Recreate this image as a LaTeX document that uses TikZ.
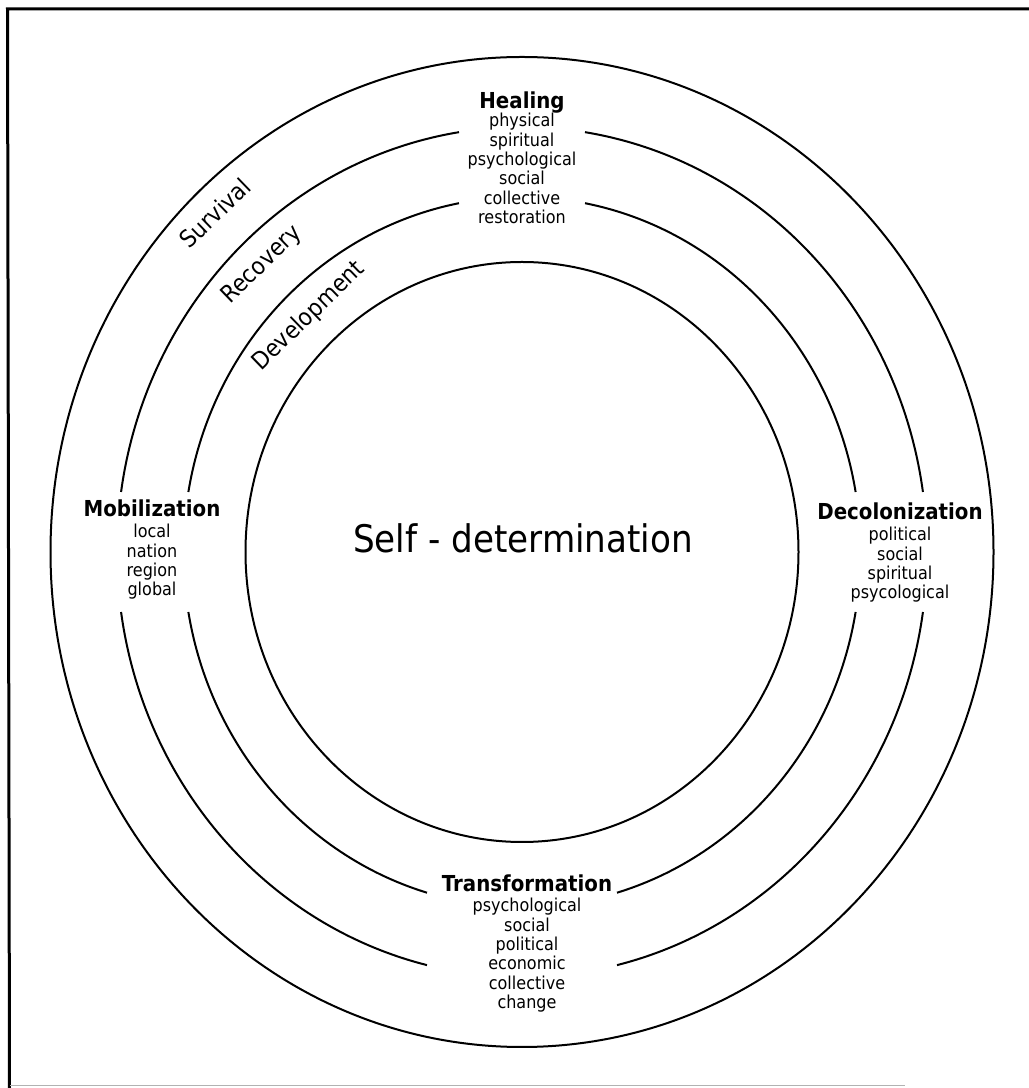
\documentclass[tikz,border=0pt]{standalone}
\usepackage{fontspec}
\setmainfont{DejaVu Sans}[FakeStretch=0.9]
\usetikzlibrary{calc}
\begin{document}
\begin{tikzpicture}[x=1pt,y=1pt,
  ring/.style={line width=2pt, black},
  head/.style={font=\fontsize{22}{26}\selectfont\bfseries, anchor=base, inner sep=0},
  sub/.style={font=\fontsize{17.8}{19.3}\selectfont, anchor=base, inner sep=0},
  layer/.style={font=\fontsize{24}{28}\selectfont, rotate=44, inner sep=0},
  title/.style={font=\fontsize{38}{44}\selectfont, anchor=base, inner sep=0}]
\useasboundingbox (0,0) rectangle (1029,1088);
\fill[white] (0,0) rectangle (1029,1088);
% frame
\draw[line width=3pt] (1029,1079) -- (7.5,1079) -- (9.5,0);
\draw[gray!60, line width=0.8pt] (10,2.5) -- (905,2.5);
\coordinate (c) at (522,536);
% full rings
\draw[ring] (c) ellipse [x radius=471.5, y radius=495];
\draw[ring] (c) ellipse [x radius=276.5, y radius=290];
% broken rings
\foreach \a/\b in {8.12/81.05, 98.95/171.88, 188.12/256.43, 283.57/351.88}
  \draw[ring] ($(c)+(\a:405 and 425)$) arc[start angle=\a, end angle=\b, x radius=405, y radius=425];
\foreach \a/\b in {9.73/79.27, 100.73/170.27, 189.73/253.70, 286.30/350.27}
  \draw[ring] ($(c)+(\a:338.5 and 355)$) arc[start angle=\a, end angle=\b, x radius=338.5, y radius=355];
% centre
\node[title] (self) at (523,535) {Self - determination};
% Healing
\node[head] (heal) at (522,979) {Healing};
\foreach \t [count=\i] in {physical, spiritual, psychological, social, collective, restoration}
  \node[sub] (heal-\i) at (522,{961-19.3*(\i-1)}) {\t};
% Mobilization
\node[head] (mob) at (152,571) {Mobilization};
\foreach \t [count=\i] in {local, nation, region, global}
  \node[sub] (mob-\i) at (152,{550-19.3*(\i-1)}) {\t};
% Decolonization
\node[head] (dec) at (900,568) {Decolonization};
\foreach \t [count=\i] in {political, social, spiritual, psycological}
  \node[sub] (dec-\i) at (900,{547-19.3*(\i-1)}) {\t};
% Transformation
\node[head] (tra) at (527,196) {Transformation};
\foreach \t [count=\i] in {psychological, social, political, economic, collective, change}
  \node[sub] (tra-\i) at (527,{176-19.3*(\i-1)}) {\t};
% layer labels
\node[layer] (surv) at (215,875) {Survival};
\node[layer] (reco) at (262,823) {Recovery};
\node[layer] (devel) at (309,772) {Development};
\end{tikzpicture}
\end{document}
